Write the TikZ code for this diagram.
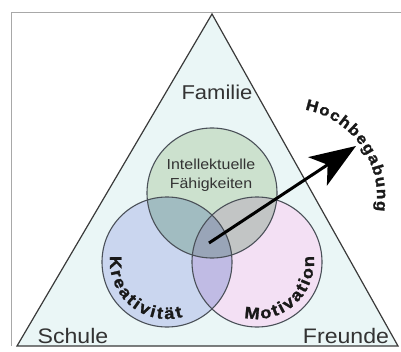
\documentclass[tikz,border=0pt]{standalone}
\usepackage{fontspec}
\setmainfont{Liberation Sans}
\newfontfamily\plainfont[FakeStretch=1.1]{Liberation Sans}
\newfontfamily\heavyfont[FakeStretch=1.1, FakeBold=1.5]{Liberation Sans Bold}
\usetikzlibrary{arrows.meta,decorations.text}
\definecolor{framegray}{HTML}{A8A8A8}
\definecolor{trifill}{HTML}{EAF6F6}
\definecolor{edgegray}{HTML}{3A3A3A}
\definecolor{ringgray}{HTML}{4A5058}
\definecolor{greenc}{HTML}{CCE1CE}
\definecolor{bluec}{HTML}{CAD6EF}
\definecolor{pinkc}{HTML}{F3E0F4}
\definecolor{textgray}{HTML}{333333}
\tikzset{
  ring/.style={draw=ringgray, line width=1.1pt},
  corner/.style={font=\plainfont\fontsize{21}{21}\selectfont, text=textgray, inner sep=0pt, anchor=base},
  inner/.style={font=\plainfont\fontsize{14.5}{14.5}\selectfont, text=textgray, inner sep=0pt, anchor=base},
  arclabel/.style={decorate, decoration={text along path, text align=fit to path,
      text color=black!90}},
}
\begin{document}
\begin{tikzpicture}[x=1pt, y=1pt]
  \useasboundingbox (0,0) rectangle (401,351);
  % frame edges
  \draw[framegray, line width=0.9pt] (11,5) -- (11,338.5) -- (401,338.5);
  % triangle of surroundings
  \coordinate (apex) at (212,337);
  \coordinate (bl) at (17,5);
  \coordinate (br) at (398,5);
  \begin{scope}
    \clip (11,5) rectangle (401,338.5);
    \filldraw[fill=trifill, draw=edgegray, line width=1.2pt] (apex) -- (bl) -- (br) -- cycle;
  \end{scope}
  % three overlapping circles
  \coordinate (T) at (212,158);
  \coordinate (L) at (167,89);
  \coordinate (R) at (257,89);
  \begin{scope}[blend group=multiply]
    \fill[greenc] (T) circle[radius=65];
    \fill[bluec] (L) circle[radius=65];
    \fill[pinkc] (R) circle[radius=65];
  \end{scope}
  \draw[ring] (T) circle[radius=65];
  \draw[ring] (L) circle[radius=65];
  \draw[ring] (R) circle[radius=65];
  % corner labels
  \node[corner, font=\plainfont\fontsize{20}{20}\selectfont] (fam) at (217,251) {Familie};
  \node[corner] (sch) at (73,8) {Schule};
  \node[corner] (fre) at (346,8) {Freunde};
  % top circle label
  \node[inner] (int) at (211,181) {Intellektuelle};
  \node[inner] (fah) at (211,163) {Fähigkeiten};
  % curved labels
  \path[arclabel, decoration={text={|\heavyfont\fontsize{16.5}{16.5}\selectfont|Kreativität}}]
    (L) ++(174:57) arc[start angle=174, end angle=286, radius=57];
  \path[arclabel, decoration={text={|\heavyfont\fontsize{16.5}{16.5}\selectfont|Motivation}}]
    (R) ++(257:57) arc[start angle=257, end angle=366, radius=57];
  \coordinate (H) at (288,154);
  \path[arclabel, decoration={text={|\heavyfont\fontsize{15.5}{15.5}\selectfont|Hochbegabung}}]
    (H) ++(79:89) arc[start angle=79, end angle=-9, radius=89];
  % arrow out of the common core
  \coordinate (core) at (209,108);
  \coordinate (tip) at (356,205);
  \draw[line width=3pt, -{Stealth[length=46pt, width=34pt, inset=12pt]}] (core) -- (tip);
\end{tikzpicture}
\end{document}
